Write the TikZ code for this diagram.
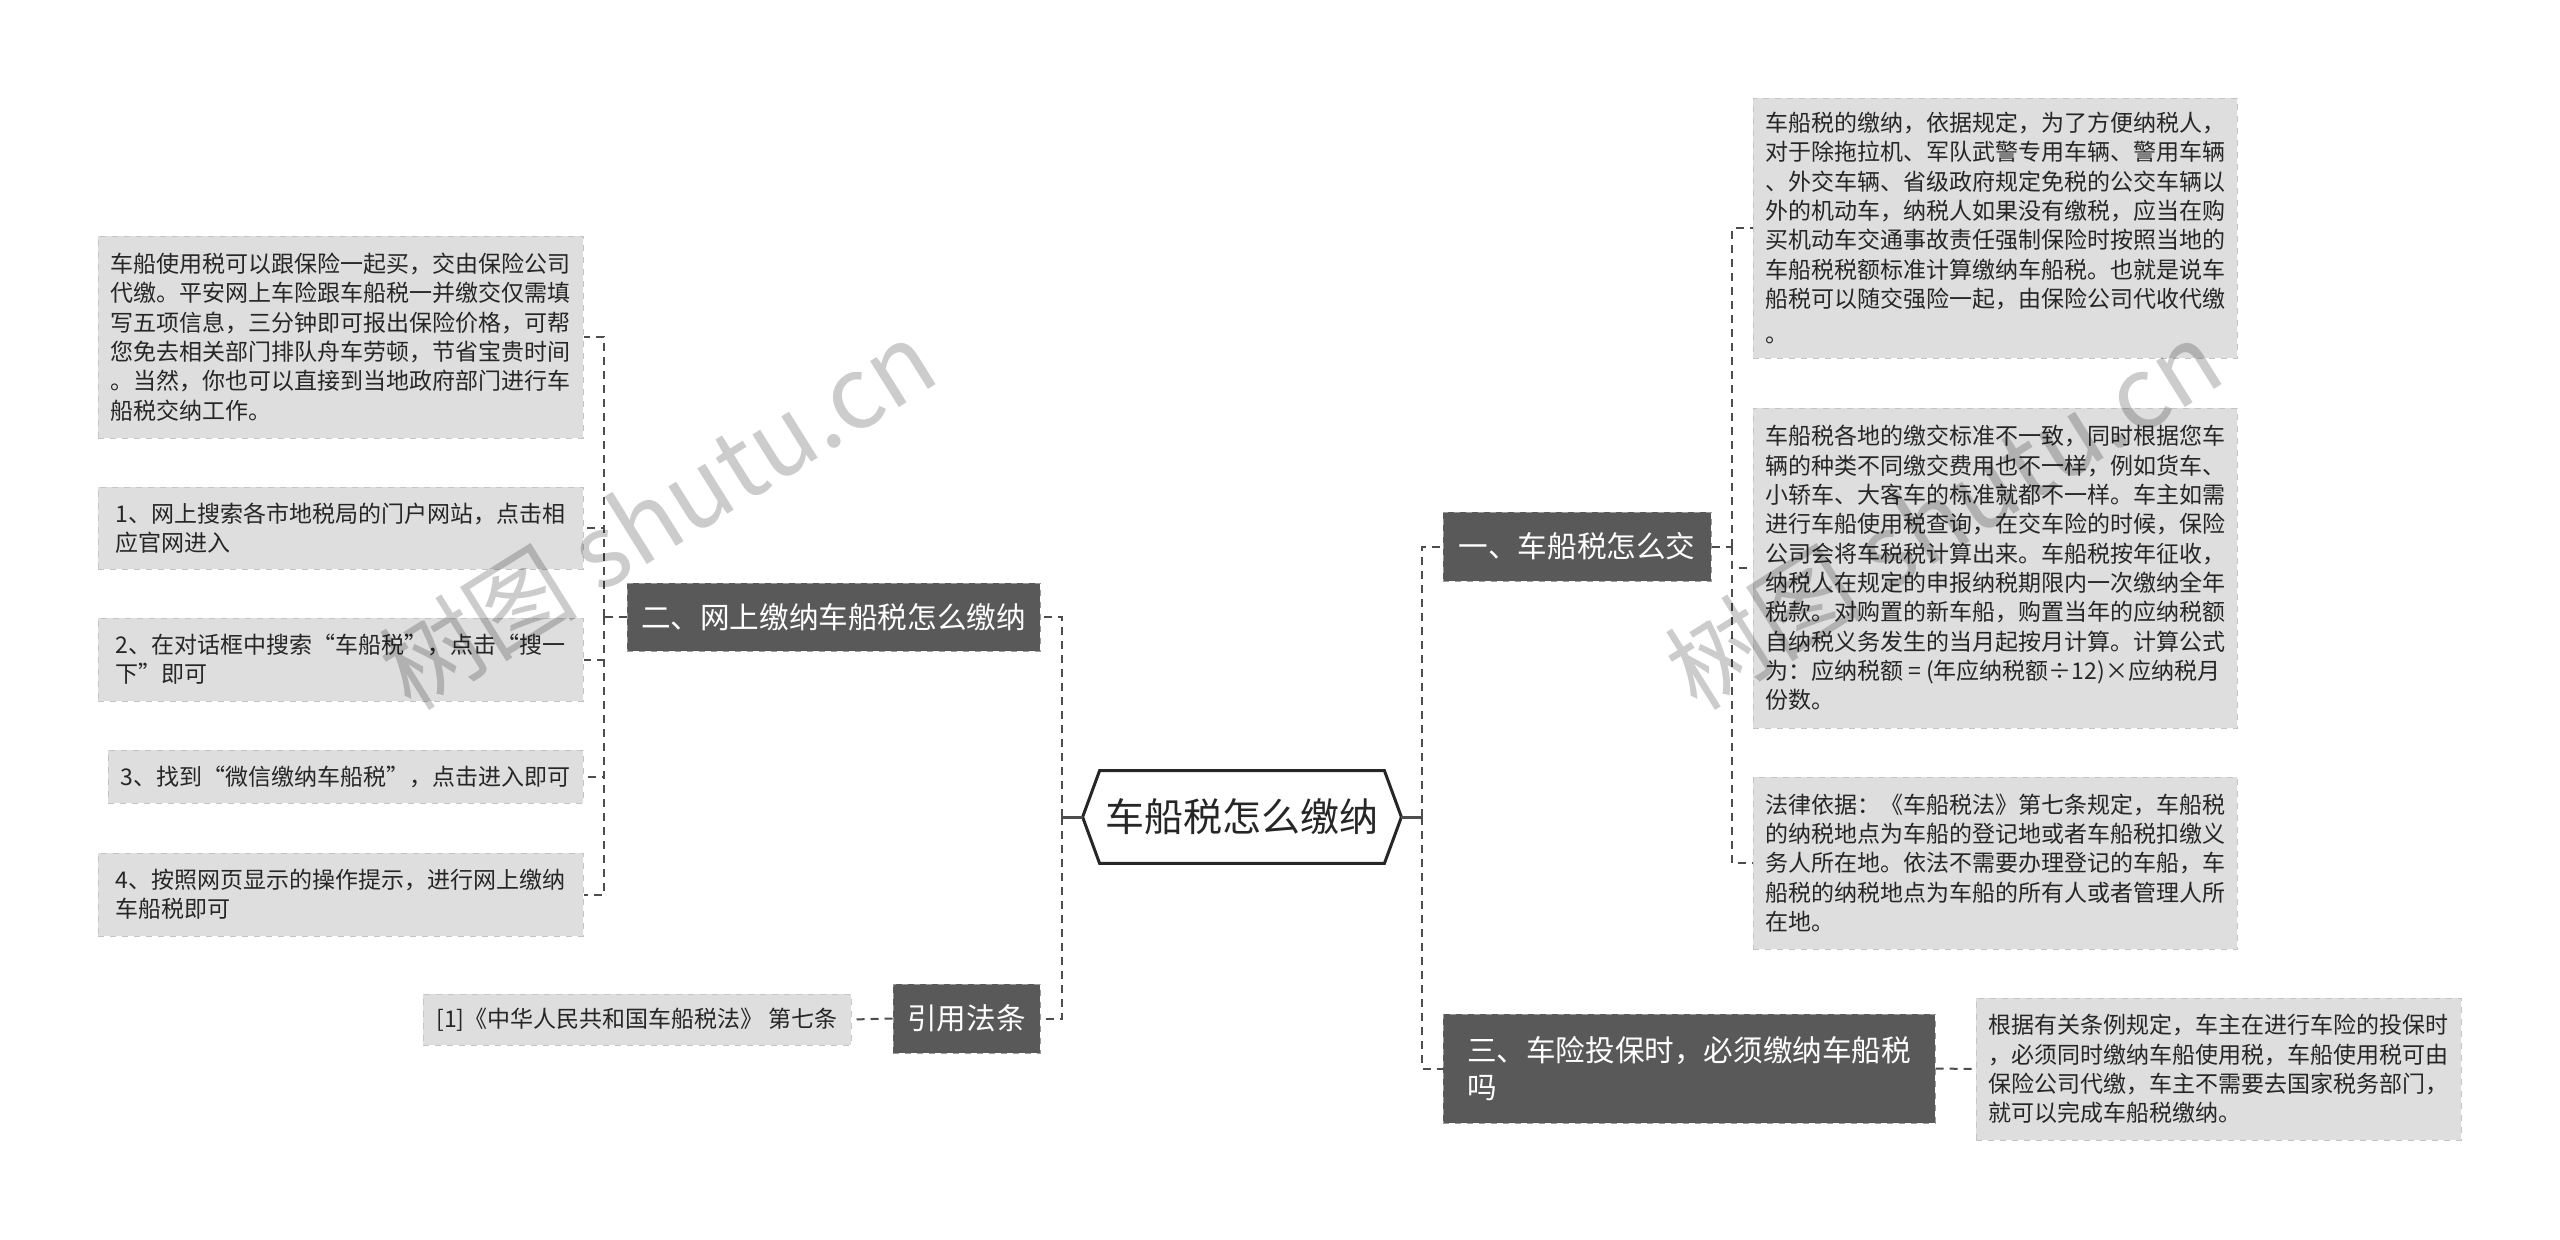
\documentclass[tikz,border=0pt]{standalone}
\usepackage{fontspec}
\setmainfont{Noto Sans CJK SC}
\usetikzlibrary{calc}
\definecolor{branchfill}{HTML}{595959}
\definecolor{branchline}{HTML}{9A9A9A}
\definecolor{leaffill}{HTML}{DEDEDE}
\definecolor{leafline}{HTML}{C4C4C4}
\definecolor{linec}{HTML}{4D4D4D}
\definecolor{txt}{HTML}{262626}
\begin{document}
\begin{tikzpicture}[x=0.5pt,y=-0.5pt,
  leaf/.style={fill=leaffill, draw=leafline, dashed, line width=0.5pt, text=txt,
    font=\fontsize{11.5}{14.65}\selectfont, align=left, inner sep=0pt},
  branch/.style={fill=branchfill, draw=branchline, dashed, line width=0.5pt, text=white,
    font=\fontsize{14.8}{18.5}\selectfont, align=left, inner sep=0pt},
  conn/.style={draw=linec, line width=1pt, dash pattern=on 4pt off 3pt},
  stub/.style={draw=linec, line width=1.5pt},
  wm/.style={text=black, text opacity=0.2, font=\fontsize{50}{50}\selectfont, rotate=32}]
\useasboundingbox (0,0) rectangle (2560,1239);
\fill[white] (0,0) rectangle (2560,1239);

% centre
\node[minimum width=159pt, minimum height=46pt, inner sep=0pt, font=\fontsize{19.5}{22}\selectfont, text=txt] (C) at (1242,817) {车船税怎么缴纳};
\draw[line width=1.5pt, draw=txt] ([xshift=8.5pt]C.north west) -- ([xshift=-8.5pt]C.north east) -- (C.east) -- ([xshift=-8.5pt]C.south east) -- ([xshift=8.5pt]C.south west) -- (C.west) -- cycle;

% branches
\node[branch, minimum width=206.5pt, minimum height=34pt] (B2) at (833.5,617) {二、网上缴纳车船税怎么缴纳};
\node[branch, minimum width=73.5pt, minimum height=34.5pt] (B4) at (966.5,1018.5) {引用法条};
\node[branch, minimum width=134pt, minimum height=34.5pt] (B1) at (1577,546.5) {一、车船税怎么交};
\node[branch, minimum width=246pt, minimum height=54.5pt] (B3) at (1689,1068.5) {三、车险投保时，必须缴纳车船税\\吗};

% left leaves
\node[leaf, minimum width=242.5pt, minimum height=101pt] (L0) at (340.5,337) {车船使用税可以跟保险一起买，交由保险公司\\代缴。平安网上车险跟车船税一并缴交仅需填\\写五项信息，三分钟即可报出保险价格，可帮\\您免去相关部门排队舟车劳顿，节省宝贵时间\\。当然，你也可以直接到当地政府部门进行车\\船税交纳工作。};
\node[leaf, minimum width=242.5pt, minimum height=41pt] (L1) at (340.5,528) {1、网上搜索各市地税局的门户网站，点击相\\应官网进入};
\node[leaf, minimum width=242.5pt, minimum height=41.5pt] (L2) at (340.5,659.5) {2、在对话框中搜索“车船税”，点击“搜一\\下”即可};
\node[leaf, minimum width=237.5pt, minimum height=26.5pt] (L3) at (345.5,776.5) {3、找到“微信缴纳车船税”，点击进入即可};
\node[leaf, minimum width=242.5pt, minimum height=41.5pt] (L4) at (340.5,894.5) {4、按照网页显示的操作提示，进行网上缴纳\\车船税即可};
\node[leaf, minimum width=214pt, minimum height=25.5pt] (Cite) at (637,1019.5) {[1]《中华人民共和国车船税法》 第七条};

% right leaves
\node[leaf, minimum width=242pt, minimum height=130pt] (R0) at (1995,228) {车船税的缴纳，依据规定，为了方便纳税人，\\对于除拖拉机、军队武警专用车辆、警用车辆\\、外交车辆、省级政府规定免税的公交车辆以\\外的机动车，纳税人如果没有缴税，应当在购\\买机动车交通事故责任强制保险时按照当地的\\车船税税额标准计算缴纳车船税。也就是说车\\船税可以随交强险一起，由保险公司代收代缴\\[3pt]。};
\node[leaf, minimum width=242pt, minimum height=160pt] (R1) at (1995,568) {车船税各地的缴交标准不一致，同时根据您车\\辆的种类不同缴交费用也不一样，例如货车、\\小轿车、大客车的标准就都不一样。车主如需\\进行车船使用税查询，在交车险的时候，保险\\公司会将车税税计算出来。车船税按年征收，\\纳税人在规定的申报纳税期限内一次缴纳全年\\税款。对购置的新车船，购置当年的应纳税额\\自纳税义务发生的当月起按月计算。计算公式\\为：应纳税额 = (年应纳税额÷12)×应纳税月\\份数。};
\node[leaf, minimum width=242pt, minimum height=86pt] (R2) at (1995,863) {法律依据：《车船税法》第七条规定，车船税\\的纳税地点为车船的登记地或者车船税扣缴义\\务人所在地。依法不需要办理登记的车船，车\\船税的纳税地点为车船的所有人或者管理人所\\在地。};
\node[leaf, minimum width=242.5pt, minimum height=71pt] (R3) at (2218.5,1069) {根据有关条例规定，车主在进行车险的投保时\\，必须同时缴纳车船使用税，车船使用税可由\\保险公司代缴，车主不需要去国家税务部门，\\就可以完成车船税缴纳。};

% connectors
\coordinate (cl) at (1062,817);
\coordinate (cr) at (1422,817);
\coordinate (t2) at (604,617);
\coordinate (t1) at (1732,546.5);
\draw[stub] (C.west) -- (cl);
\draw[stub] (C.east) -- (cr);
\draw[conn] (cl) |- (B2.east);
\draw[conn] (cl) |- (B4.east);
\draw[conn] (cr) |- (B1.west);
\draw[conn] (cr) |- (B3.west);
\draw[conn] (B2.west) -- (t2);
\draw[conn] (t2) |- (L0.east);
\draw[conn] (t2) |- (L1.east);
\draw[conn] (t2) |- (L2.east);
\draw[conn] (t2) |- (L3.east);
\draw[conn] (t2) |- (L4.east);
\draw[conn] (B4.west) -- (Cite.east);
\draw[conn] (B1.east) -- (t1);
\draw[conn] (t1) |- (R0.west);
\draw[conn] (t1) |- (R1.west);
\draw[conn] (t1) |- (R2.west);
\draw[conn] (B3.east) -- (R3.west);

% watermarks
\node[wm] (W1) at (657,514) {树图 shutu.cn};
\node[wm] (W2) at (1943,514) {树图 shutu.cn};
\end{tikzpicture}
\end{document}
